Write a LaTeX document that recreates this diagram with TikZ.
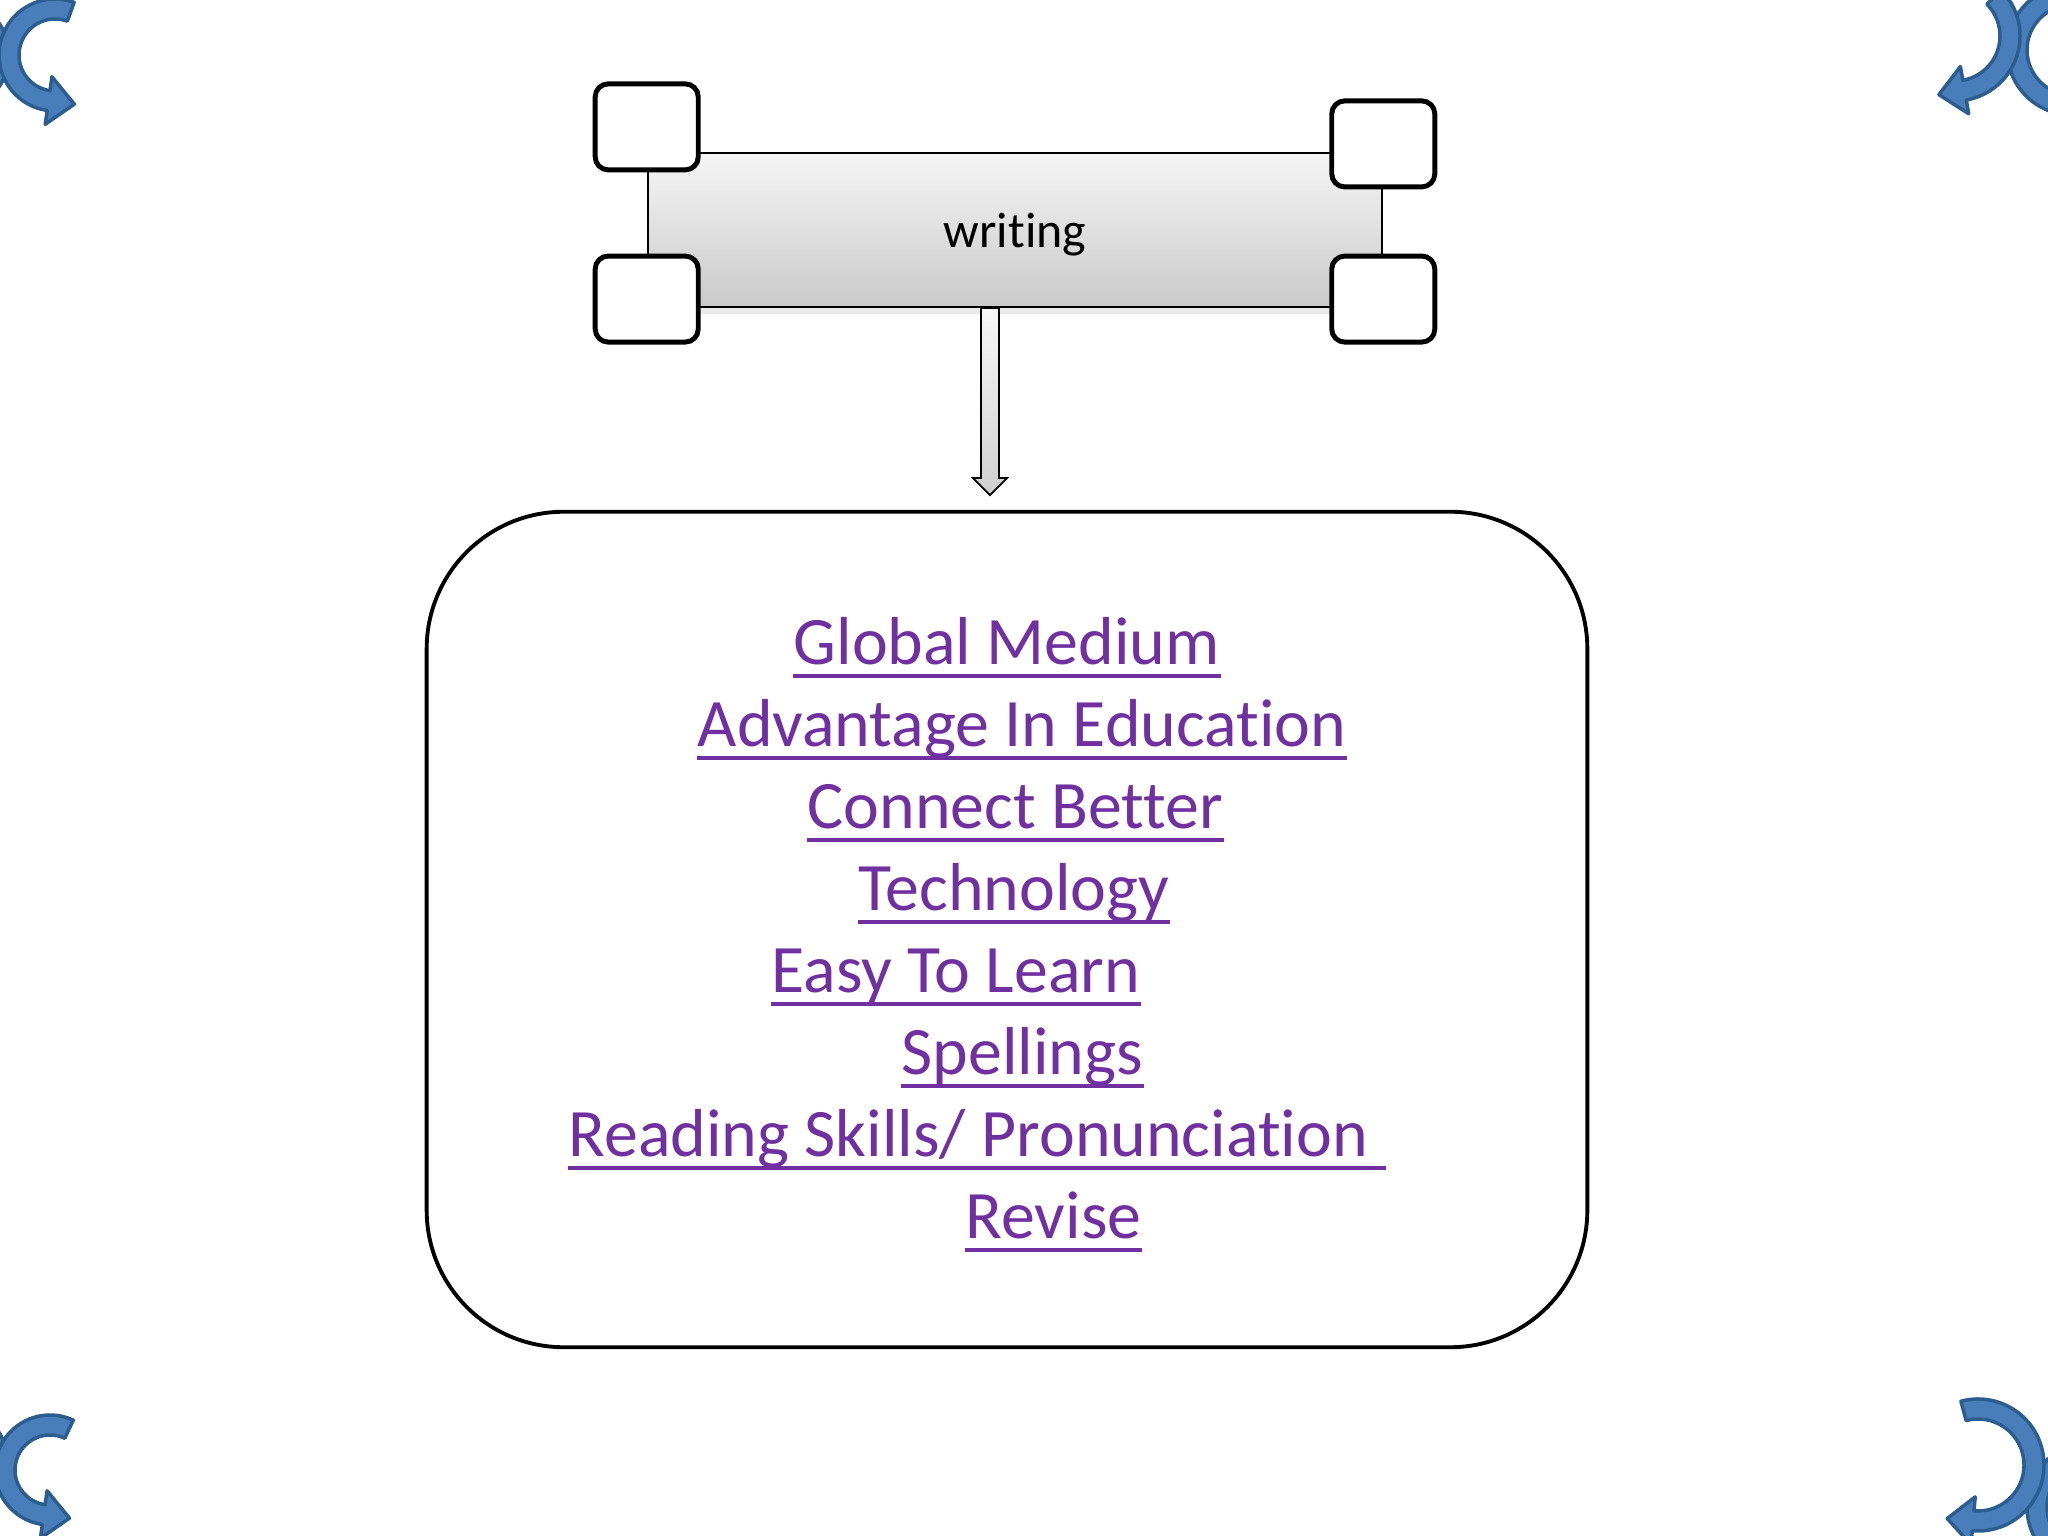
\documentclass[tikz,border=0pt]{standalone}
\usepackage{fontspec}
\setmainfont{Carlito}[Ligatures=NoCommon]
\usetikzlibrary{positioning,calc,shadows}

\definecolor{itempurple}{HTML}{7030A0}
\definecolor{curlfill}{HTML}{4A7EBB}
\definecolor{curledge}{HTML}{2C5D91}

\tikzset{
  signbox/.style={draw, line width=0.6pt, top color=gray!8, bottom color=gray!42,
    minimum width=7.34cm, minimum height=1.54cm, text depth=0pt,
    font=\fontsize{14.2}{17}\selectfont,
    drop shadow={opacity=0.18, shadow xshift=0cm, shadow yshift=-0.07cm}},
  wheel/.style={draw, line width=1.4pt, fill=white, rounded corners=0.13cm,
    minimum width=1.03cm, minimum height=0.86cm, inner sep=0pt},
  listbox/.style={draw, line width=1.1pt, rounded corners=1.37cm,
    minimum width=11.6cm, minimum height=8.35cm},
  item/.style={anchor=base west, inner sep=0pt, text=itempurple,
    font=\fontsize{19.3}{23}\selectfont},
  itemline/.style={draw=itempurple, line width=1.1pt},
  hollow/.style={draw, line width=0.5pt, top color=gray!6, bottom color=gray!38},
  curl/.style={fill=curlfill, draw=curledge, line width=0.035cm, line join=round}
}

% curved arrow: centre, mid radius, start angle, end angle, tip direction, tip length
\newcommand{\curlarrow}[6]{%
  \filldraw[curl] ($#1+(#3:#2+10)$) arc[start angle=#3, end angle=#4, radius=#2+10]
    -- ($#1+(#4:#2+24)$) -- ($#1+(#4:#2)+(#5:#6)$) -- ($#1+(#4:#2-24)$)
    -- ($#1+(#4:#2-10)$) arc[start angle=#4, end angle=#3, radius=#2-10] -- cycle;}
% curved band: centre, mid radius, start angle, end angle
\newcommand{\curlband}[4]{%
  \filldraw[curl] ($#1+(#3:#2+10)$) arc[start angle=#3, end angle=#4, radius=#2+10]
    -- ($#1+(#4:#2-10)$) arc[start angle=#4, end angle=#3, radius=#2-10] -- cycle;}

\begin{document}
\begin{tikzpicture}[x=0.01cm, y=0.01cm]
  \useasboundingbox (0,0) rectangle (2048,1536);
  \clip (0,0) rectangle (2048,1536);

  % corner curls
  \curlband{(-47,1481)}{46}{-90}{90}
  \curlarrow{(55,1481)}{46}{70}{262}{352}{26}
  \curlband{(-49,75)}{46}{-90}{90}
  \curlarrow{(50,66)}{45}{65}{262}{352}{26}
  \curlband{(2072,1486)}{55}{90}{270}
  \curlarrow{(1955,1500)}{55}{45}{-80}{-170}{26}
  \curlband{(2092,29)}{55}{90}{270}
  \curlarrow{(1978,71)}{56}{105}{-95}{-185}{26}

  % sign with four wheels
  \node [signbox] (wr) at (1015,1306) {writing};
  \node [wheel] (wtl) at ([yshift=0.25cm]wr.north west) {};
  \node [wheel] (wbl) at ([yshift=0.09cm]wr.south west) {};
  \node [wheel] (wtr) at ([yshift=0.08cm]wr.north east) {};
  \node [wheel] (wbr) at ([yshift=0.09cm]wr.south east) {};

  % list
  \node [listbox] (lst) at (1007,606.5) {};

  % block arrow down to the list
  \coordinate (stem) at ([xshift=-0.25cm]wr.south);
  \draw [hollow] ([xshift=-0.09cm]stem) -- ++(0,-170) -- ++(-8,0) -- ++(17,-17)
    -- ++(17,17) -- ++(-8,0) -- ++(0,170) -- cycle;

  \node [item] (medium) at (793,871) {Global Medium};
  \node [item] (advantage) at (697,789) {Advantage In Education};
  \node [item] (connect) at (807,707) {Connect Better};
  \node [item] (tech) at (858,625) {Technology};
  \node [item] (easy) at (771,543) {Easy To Learn};
  \node [item] (spell) at (901,461) {Spellings};
  \node [item] (reading) at (568,379) {Reading Skills/ Pronunciation\rule{0.25em}{0pt}};
  \node [item] (revise) at (965,297) {Revise};

  % underlines
  \foreach \n in {medium,advantage,connect,tech,easy,spell,reading,revise}
    \draw [itemline] ([yshift=-0.11cm]\n.base west) -- ([yshift=-0.11cm]\n.base east);
\end{tikzpicture}
\end{document}
